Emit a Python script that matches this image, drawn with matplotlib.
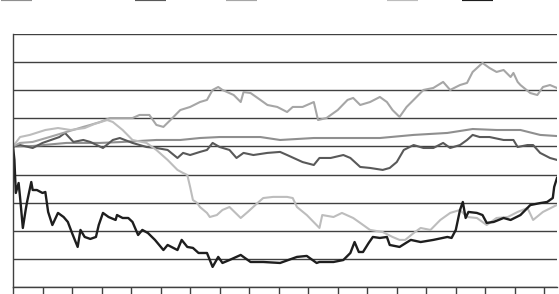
import matplotlib
matplotlib.use("Agg")
import matplotlib.pyplot as plt
from matplotlib.lines import Line2D

# indices rebased to 100, x = trading days
couleurs = ["#8f8f8f", "#595959", "#a6a6a6", "#bdbdbd", "#1e1e1e"]

jours_b = [0, 14, 38, 62, 78, 102, 119, 133, 147, 176, 190, 214, 261, 285, 309, 327, 344, 361, 375, 387]
serie_b = [100, 100.3, 102.5, 102.5, 103.2, 104.6, 104.6, 106.0, 106.7, 106.7, 104.6, 106.0, 106.0,
           108.2, 109.6, 112.4, 111.7, 111.7, 108.2, 107.4]

jours_c = [0, 5, 14, 21, 33, 37, 43, 50, 55, 64, 71, 76, 85, 95, 102, 110, 117, 121, 126, 133, 138,
           142, 147, 154, 159, 164, 171, 181, 190, 195, 206, 214, 218, 226, 235, 240, 247, 254, 263,
           268, 273, 278, 285, 292, 299, 306, 311, 318, 323, 327, 332, 339, 349, 356, 359, 366, 370,
           375, 382, 387]
serie_c = [100, 101.0, 98.9, 102.5, 106.7, 109.6, 103.2, 104.6, 103.2, 98.9, 104.6, 106.0, 102.5,
           99.6, 98.9, 97.5, 91.8, 95.4, 93.9, 96.1, 97.5, 102.5, 99.6, 97.5, 91.8, 95.4, 93.9, 95.4,
           96.1, 93.9, 88.9, 86.8, 91.8, 91.8, 93.9, 91.8, 85.4, 84.7, 83.3, 84.7, 88.9, 97.5, 101.0,
           98.9, 98.9, 102.5, 98.9, 101.0, 104.6, 108.2, 106.7, 106.7, 104.6, 104.6, 99.6, 101.0,
           101.0, 95.4, 91.8, 90.4]

jours_a = [0, 5, 14, 26, 38, 50, 55, 62, 69, 85, 90, 97, 102, 107, 112, 119, 126, 133, 138, 142,
           146, 149, 157, 162, 164, 169, 174, 181, 188, 195, 199, 206, 214, 217, 223, 231, 238, 242,
           247, 254, 261, 266, 270, 275, 280, 285, 292, 299, 306, 311, 318, 323, 327, 334, 339, 344,
           349, 354, 356, 359, 361, 368, 373, 377, 382, 387]
serie_a = [100, 102.5, 103.2, 106.7, 110.3, 113.9, 115.3, 117.4, 120.2, 120.2, 122.4, 122.4, 115.3,
           113.9, 118.8, 125.9, 128.1, 131.6, 133.1, 140.2, 142.3, 140.2, 136.6, 131.6, 138.7, 138.0,
           134.5, 129.5, 128.1, 124.5, 128.1, 128.1, 131.6, 118.8, 120.2, 125.9, 133.1, 134.5, 129.5,
           131.6, 135.2, 131.6, 125.9, 121.0, 128.1, 133.1, 140.2, 141.6, 145.9, 140.2, 143.7, 145.2,
           153.0, 159.4, 155.8, 153.0, 154.4, 149.4, 152.3, 145.9, 143.7, 138.0, 136.6, 142.3, 143.7,
           141.6]

jours_d = [0, 5, 12, 23, 32, 41, 51, 58, 67, 71, 78, 85, 95, 102, 110, 117, 121, 124, 126, 128, 131,
           133, 138, 140, 145, 149, 154, 162, 167, 174, 178, 185, 195, 199, 202, 209, 218, 220, 228,
           234, 242, 247, 254, 263, 270, 275, 279, 285, 290, 297, 304, 311, 318, 323, 330, 337, 344,
           352, 359, 366, 370, 377, 387]
serie_d = [100, 106.7, 108.2, 111.7, 113.1, 111.7, 113.1, 116.0, 118.8, 117.4, 111.7, 104.6, 102.5,
           97.5, 90.4, 83.3, 81.1, 79.7, 71.2, 61.9, 59.8, 56.9, 52.7, 49.8, 51.2, 54.8, 56.9, 49.1,
           53.4, 59.8, 63.3, 64.1, 64.1, 63.3, 56.9, 51.2, 42.0, 51.2, 49.8, 52.7, 49.1, 45.6, 40.6,
           39.1, 35.6, 33.5, 33.5, 38.4, 42.0, 40.6, 47.7, 52.7, 54.8, 49.8, 49.1, 44.1, 49.1, 49.8,
           53.4, 56.2, 47.7, 53.4, 58.4]

jours_e = [0, 1, 2, 4, 5, 7, 9, 10, 13, 14, 17, 21, 23, 25, 28, 32, 36, 39, 42, 46, 48, 51, 55, 59,
           61, 64, 68, 73, 74, 78, 82, 85, 89, 92, 96, 101, 107, 110, 117, 120, 124, 128, 132, 138,
           142, 146, 149, 154, 162, 169, 178, 190, 202, 209, 216, 218, 228, 235, 240, 243, 246, 249,
           253, 256, 261, 266, 268, 275, 283, 290, 299, 309, 312, 315, 318, 320, 322, 324, 330, 334,
           337, 342, 349, 354, 361, 368, 375, 380, 384, 385, 387]
serie_e = [100, 90.4, 66.9, 74.0, 64.1, 42.0, 54.8, 60.5, 74.7, 69.0, 69.0, 66.9, 67.6, 53.4, 44.1,
           52.7, 49.8, 46.3, 38.4, 28.5, 40.6, 35.6, 34.2, 35.6, 44.1, 52.7, 49.8, 47.7, 51.2, 49.1,
           49.1, 46.3, 37.0, 40.6, 38.4, 33.5, 26.3, 29.9, 26.3, 33.5, 28.5, 27.8, 24.2, 24.2, 14.3,
           21.4, 17.1, 19.2, 22.8, 17.8, 17.8, 17.1, 21.4, 22.1, 17.1, 17.8, 17.8, 19.2, 24.2, 32.0,
           24.9, 24.9, 31.3, 35.6, 34.9, 35.6, 29.9, 28.5, 33.5, 32.0, 33.5, 35.6, 34.9, 40.6, 54.8,
           60.5, 49.1, 53.4, 52.7, 51.2, 45.6, 46.3, 49.1, 47.7, 51.2, 58.3, 59.7, 60.5, 63.3, 71.2,
           77.6]

series = [(jours_b, serie_b), (jours_c, serie_c), (jours_a, serie_a), (jours_d, serie_d), (jours_e, serie_e)]
epaisseurs = [1.5, 1.5, 1.5, 1.5, 1.7]
legende_x = [1, 135, 226, 387, 462]  # left edge of each legend patch, in pixels

fig = plt.figure(figsize=(5.59, 2.94), dpi=100)
ax = fig.add_axes([13 / 559, 1 - 287 / 294, (557 - 13) / 559, (287 - 34) / 294])

for (x, y), c, lw in zip(series, couleurs, epaisseurs):
    ax.plot(x, y, color=c, lw=lw, solid_joinstyle="round")

ax.set_xlim(0, 387)
ax.set_ylim(0, 180)
ax.set_xticks(range(0, 388, 21))
ax.set_yticks(range(0, 181, 20))
ax.set_xticklabels([])
ax.set_yticklabels([])
ax.tick_params(axis="x", direction="out", length=5, width=1, color="#404040")
ax.tick_params(axis="y", length=0)
ax.grid(axis="y", color="#404040", lw=1)
ax.set_axisbelow(True)
for cote in ["top", "right"]:
    ax.spines[cote].set_visible(False)
for cote in ["left", "bottom"]:
    ax.spines[cote].set_color("#404040")
    ax.spines[cote].set_linewidth(1)

# legend patches, only their lower half shows at the top edge
for c, px in zip(couleurs, legende_x):
    poignee = Line2D([], [], color=c, lw=3, solid_capstyle="butt")
    fig.legend([poignee], [""], loc="center left", bbox_to_anchor=(px / 559, 1.0),
               frameon=False, borderpad=0, borderaxespad=0, handletextpad=0,
               handlelength=31 / 13.9, fontsize=10)

fig.savefig("out.png", dpi=100)
